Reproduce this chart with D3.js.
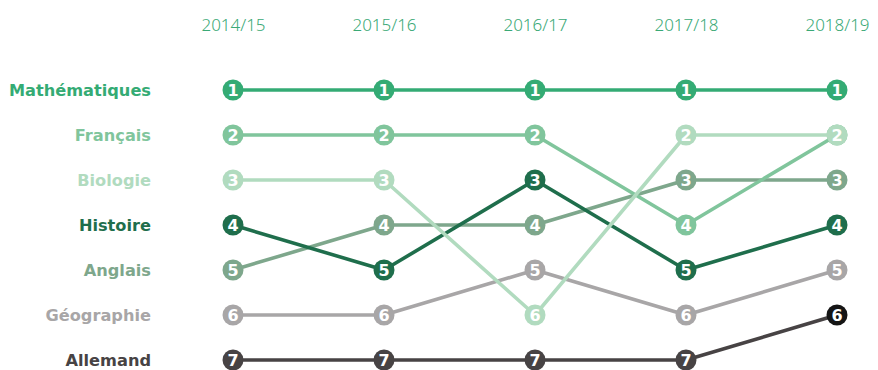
<!DOCTYPE html>
<html>
<head>
<meta charset="utf-8">
<script src="https://cdn.jsdelivr.net/npm/d3@7"></script>
<style>
  html, body { margin: 0; padding: 0; background: #fff; }
  svg { display: block; }
</style>
</head>
<body>
<svg id="chart" width="878" height="370"></svg>
<script>
// School years along the top
const years = ["2014/15", "2015/16", "2016/17", "2017/18", "2018/19"];

// Subjects in label order
const subjects = ["Mathématiques", "Français", "Biologie", "Histoire", "Anglais", "Géographie", "Allemand"];

// Rank of each subject per year
const rankMathematiques = [1, 1, 1, 1, 1];
const rankFrancais      = [2, 2, 2, 4, 2];
const rankBiologie      = [3, 3, 6, 2, 2];
const rankHistoire      = [4, 5, 3, 5, 4];
const rankAnglais       = [5, 4, 4, 3, 3];
const rankGeographie    = [6, 6, 5, 6, 5];
const rankAllemand      = [7, 7, 7, 7, 6];

const subjectColors = ["#34ab74", "#80c59c", "#b1dbbf", "#1f6e4c", "#7ea78c", "#a8a6a7", "#474344"];

const series = [
  { name: subjects[0], ranks: rankMathematiques, color: subjectColors[0] },
  { name: subjects[1], ranks: rankFrancais,      color: subjectColors[1] },
  { name: subjects[2], ranks: rankBiologie,      color: subjectColors[2] },
  { name: subjects[3], ranks: rankHistoire,      color: subjectColors[3] },
  { name: subjects[4], ranks: rankAnglais,       color: subjectColors[4] },
  { name: subjects[5], ranks: rankGeographie,    color: subjectColors[5] },
  { name: subjects[6], ranks: rankAllemand,      color: subjectColors[6] }
];

// Allemand's latest dot is drawn darker
const dotOverride = { "Allemand|2018/19": "#151515" };

const svg = d3.select("#chart");
const labelFont = "'DejaVu Sans', sans-serif";
const headFont = "'Noto Sans', 'Open Sans', sans-serif";

const x = d3.scalePoint().domain(years).range([233, 837]);
const y = d3.scaleLinear().domain([1, 7]).range([90, 360]);

// Year headers
const xAxis = d3.axisTop(x).tickSize(0).tickPadding(0);
const gx = svg.append("g").attr("transform", "translate(0,31)").call(xAxis);
gx.select(".domain").remove();
gx.selectAll("text")
  .attr("font-family", headFont)
  .attr("font-size", 17)
  .attr("font-weight", 300)
  .attr("fill", "#3aa976");

// Subject labels on the left, aligned with the first-year rank
svg.append("g").selectAll("text")
  .data(series)
  .join("text")
  .attr("x", 151)
  .attr("y", d => y(d.ranks[0]))
  .attr("dy", "0.36em")
  .attr("text-anchor", "end")
  .attr("font-family", labelFont)
  .attr("font-size", 16.2)
  .attr("font-weight", 700)
  .attr("fill", d => d.color)
  .text(d => d.name);

const line = d3.line()
  .x((d, i) => x(years[i]))
  .y(d => y(d));

// Draw from bottom subject up so Mathématiques lands on top, Biologie above Français
const drawOrder = [6, 5, 4, 3, 1, 2, 0].map(i => series[i]);

const groups = svg.append("g").selectAll("g")
  .data(drawOrder)
  .join("g");

groups.append("path")
  .attr("d", d => line(d.ranks))
  .attr("fill", "none")
  .attr("stroke", d => d.color)
  .attr("stroke-width", 3.6)
  .attr("stroke-linejoin", "round");

const dots = groups.selectAll("g.dot")
  .data(d => d.ranks.map((r, i) => ({ name: d.name, year: years[i], rank: r, color: d.color })))
  .join("g")
  .attr("class", "dot")
  .attr("transform", d => `translate(${x(d.year)},${y(d.rank)})`);

dots.append("circle")
  .attr("r", 10.5)
  .attr("fill", d => dotOverride[d.name + "|" + d.year] || d.color);

dots.append("text")
  .attr("text-anchor", "middle")
  .attr("dy", "0.37em")
  .attr("font-family", labelFont)
  .attr("font-size", 16)
  .attr("font-weight", 700)
  .attr("fill", "#fff")
  .text(d => d.rank);
</script>
</body>
</html>
